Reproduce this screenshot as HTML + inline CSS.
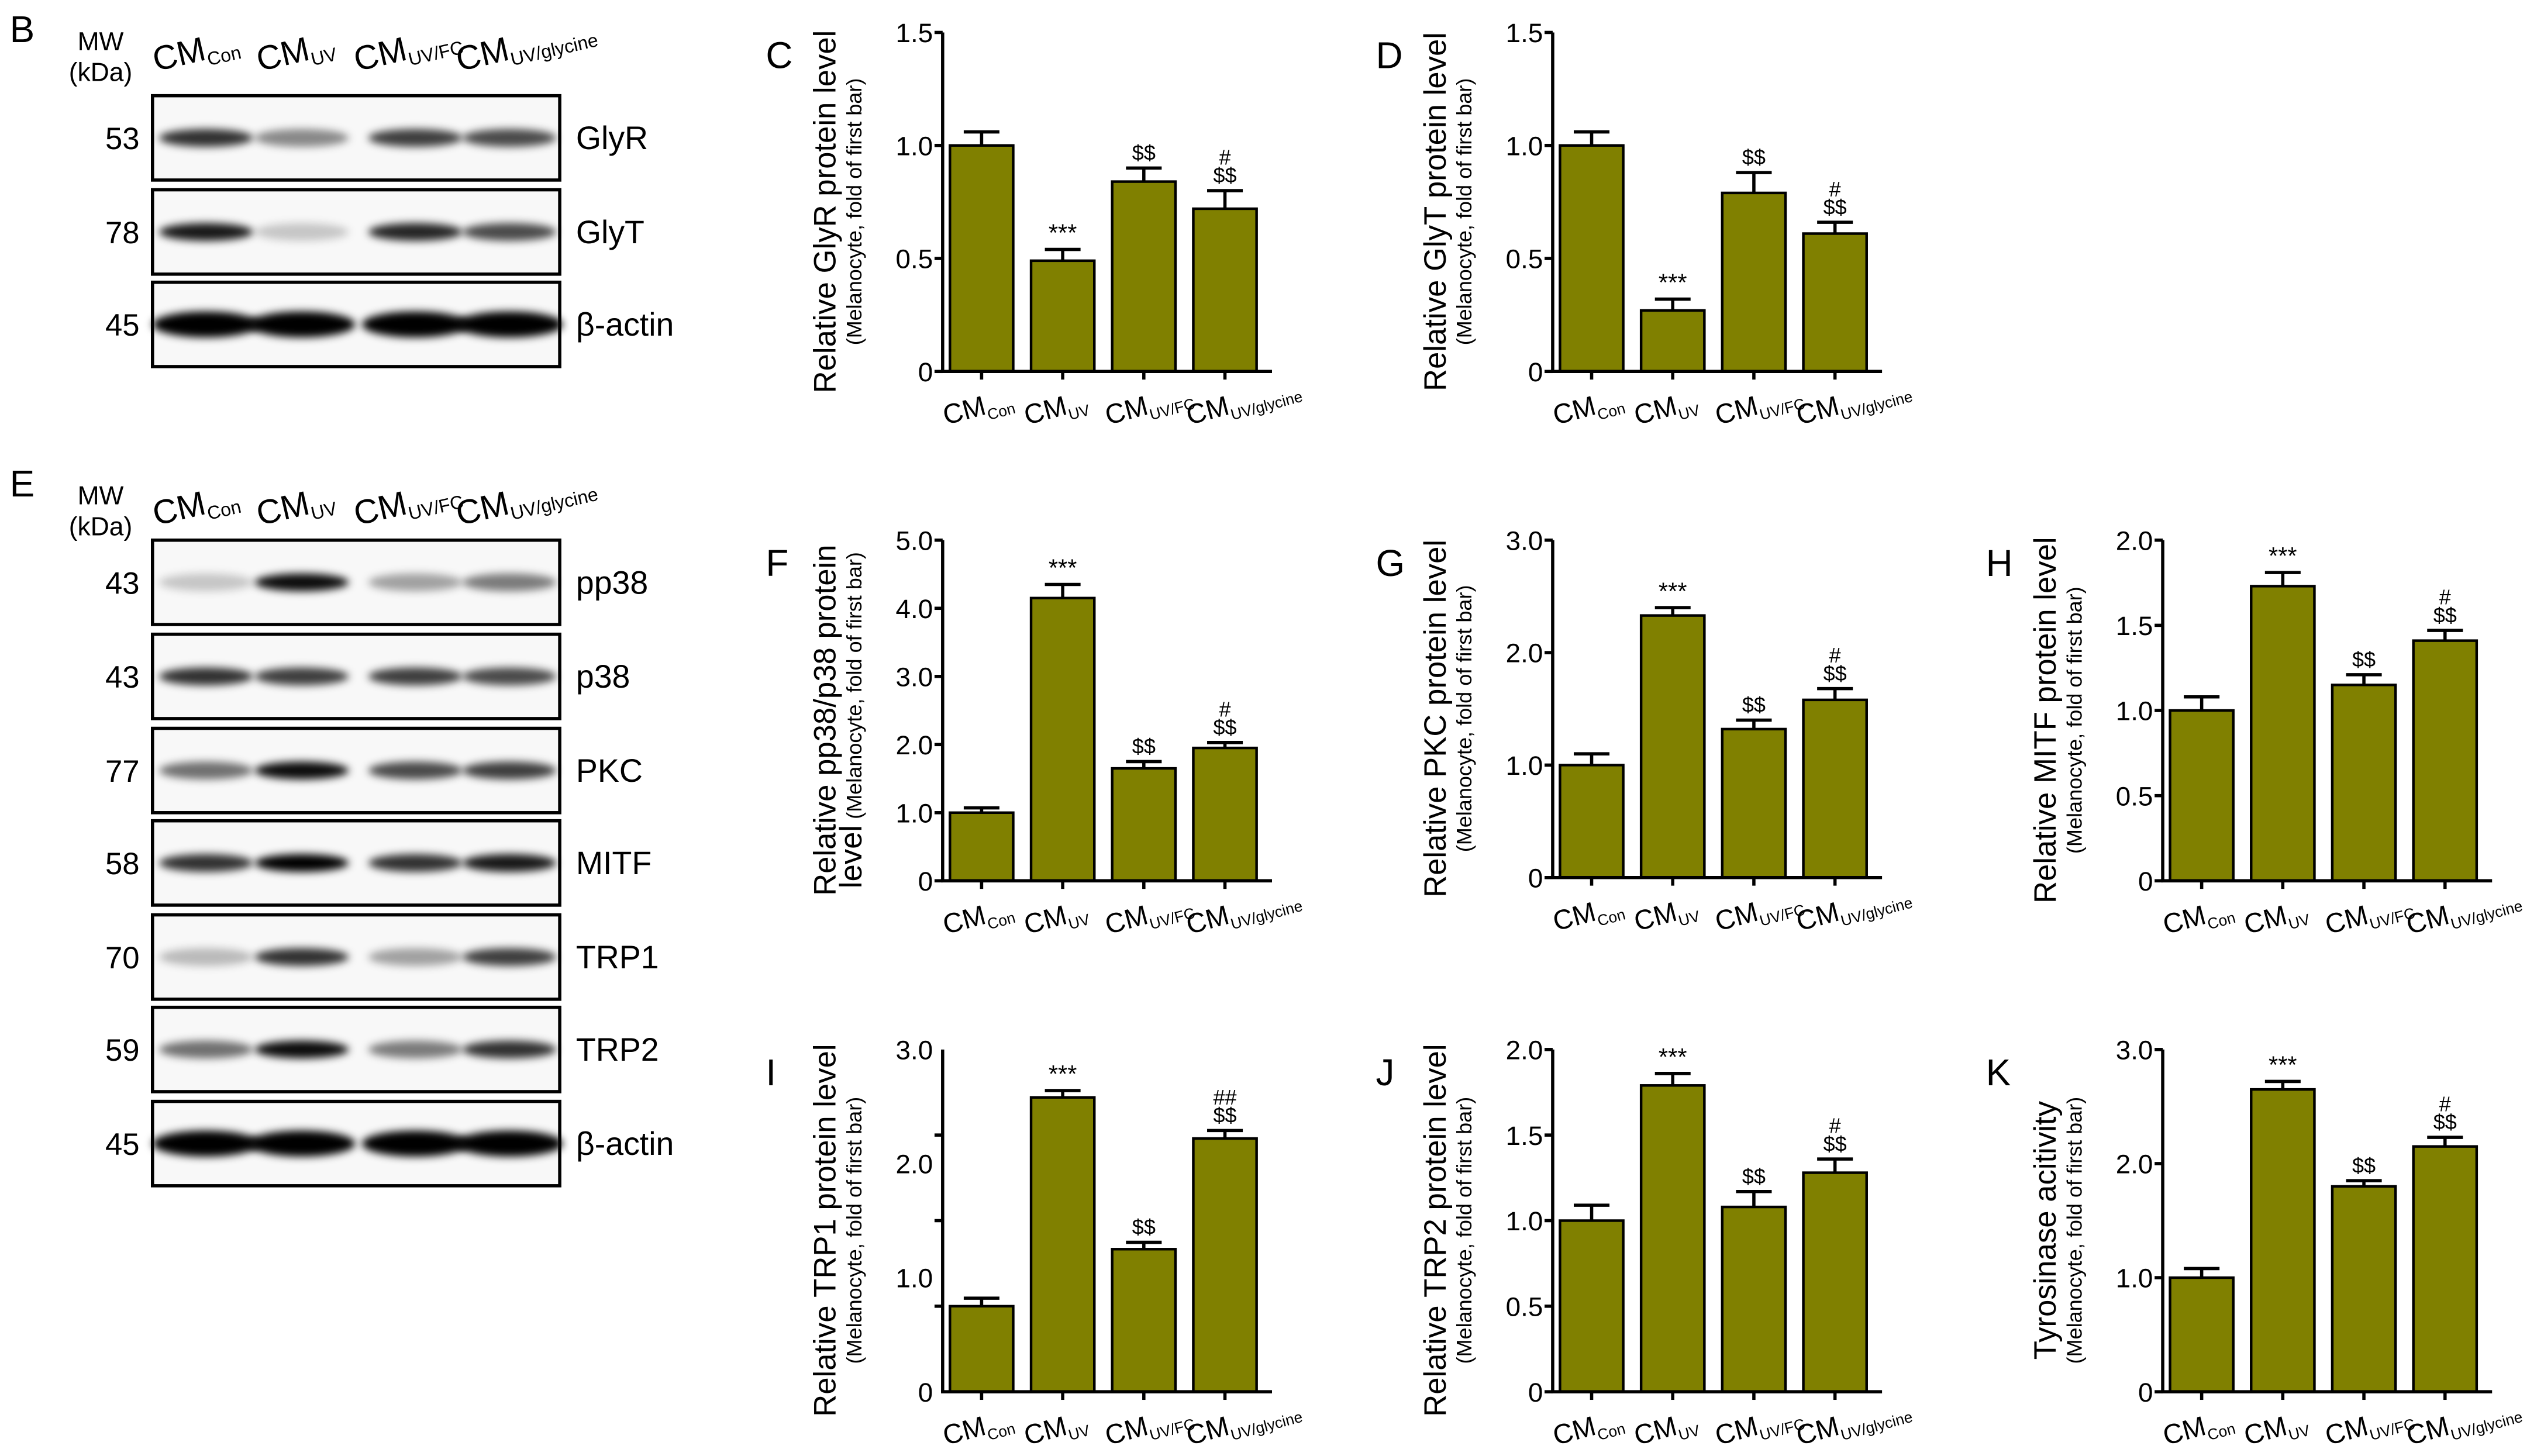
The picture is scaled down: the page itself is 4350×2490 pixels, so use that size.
<!DOCTYPE html>
<html><head><meta charset="utf-8"><style>
html,body{margin:0;padding:0;background:#fff}
svg{display:block}
text{font-family:"Liberation Sans",Arial,sans-serif;fill:#000}
</style></head><body>
<svg id="fig" width="4350" height="2490" viewBox="0 0 1568 897.6" preserveAspectRatio="none" xmlns="http://www.w3.org/2000/svg">
<defs>
<filter id="blur" x="-30%" y="-150%" width="160%" height="400%"><feGaussianBlur stdDeviation="2.5"/></filter>
</defs>
<g id="blots"></g>
<g id="charts"></g>
</svg>
<script>
const NS="http://www.w3.org/2000/svg";
function mk(tag,attrs,parent,txt){const e=document.createElementNS(NS,tag);for(const k in attrs)e.setAttribute(k,attrs[k]);if(txt!==undefined)e.textContent=txt;parent.appendChild(e);return e;}

// ---------- chart data ----------
const categories=["Con","UV","UV/FC","UV/glycine"];
const glyrValues=[1.0,0.49,0.84,0.72];
const glyrErrors=[0.06,0.05,0.06,0.08];
const glytValues=[1.0,0.27,0.79,0.61];
const glytErrors=[0.06,0.05,0.09,0.05];
const pp38Values=[1.0,4.15,1.65,1.95];
const pp38Errors=[0.07,0.2,0.1,0.08];
const pkcValues=[1.0,2.33,1.32,1.58];
const pkcErrors=[0.1,0.07,0.08,0.1];
const mitfValues=[1.0,1.73,1.15,1.41];
const mitfErrors=[0.08,0.08,0.06,0.06];
const trp1Values=[0.75,2.58,1.25,2.22];
const trp1Errors=[0.07,0.06,0.06,0.07];
const trp2Values=[1.0,1.79,1.08,1.28];
const trp2Errors=[0.09,0.07,0.09,0.08];
const tyrValues=[1.0,2.65,1.8,2.15];
const tyrErrors=[0.08,0.07,0.05,0.08];
const ticks15=["0","0.5","1.0","1.5"];
const ticks50=["0","1.0","2.0","3.0","4.0","5.0"];
const ticks30=["0","1.0","2.0","3.0"];
const ticks20=["0","0.5","1.0","1.5","2.0"];
const annotations=[[],["***"],["$$"],["$$","#"]];
const annotationsI=[[],["***"],["$$"],["$$","##"]];

const panels=[
 {id:"C",name:"glyr",ax:581,top:20,bot:229,max:1.5,vals:glyrValues,errs:glyrErrors,tl:ticks15,tv:[0,0.5,1.0,1.5],t1:"Relative GlyR protein level",t2:"(Melanocyte, fold of first bar)",ann:annotations},
 {id:"D",name:"glyt",ax:957,top:20,bot:229,max:1.5,vals:glytValues,errs:glytErrors,tl:ticks15,tv:[0,0.5,1.0,1.5],t1:"Relative GlyT protein level",t2:"(Melanocyte, fold of first bar)",ann:annotations},
 {id:"F",name:"pp38",ax:581,top:333,bot:543,max:5,vals:pp38Values,errs:pp38Errors,tl:ticks50,tv:[0,1,2,3,4,5],t1:"Relative pp38/p38 protein",t2:"level",t2b:" (Melanocyte, fold of first bar)",ann:annotations},
 {id:"G",name:"pkc",ax:957,top:333,bot:541,max:3,vals:pkcValues,errs:pkcErrors,tl:ticks30,tv:[0,1,2,3],t1:"Relative PKC protein level",t2:"(Melanocyte, fold of first bar)",ann:annotations},
 {id:"H",name:"mitf",ax:1333,top:333,bot:543,max:2,vals:mitfValues,errs:mitfErrors,tl:ticks20,tv:[0,0.5,1,1.5,2],t1:"Relative MITF protein level",t2:"(Melanocyte, fold of first bar)",ann:annotations},
 {id:"I",name:"trp1",ax:581,top:647,bot:858,max:3,vals:trp1Values,errs:trp1Errors,tl:ticks30,tv:[0,1,2,3],mt:[0.75,1.5,2.25],t1:"Relative TRP1 protein level",t2:"(Melanocyte, fold of first bar)",ann:annotationsI},
 {id:"J",name:"trp2",ax:957,top:647,bot:858,max:2,vals:trp2Values,errs:trp2Errors,tl:ticks20,tv:[0,0.5,1,1.5,2],t1:"Relative TRP2 protein level",t2:"(Melanocyte, fold of first bar)",ann:annotations},
 {id:"K",name:"tyrosinase",ax:1333,top:647,bot:858,max:3,vals:tyrValues,errs:tyrErrors,tl:ticks30,tv:[0,1,2,3],t1:"Tyrosinase acitivity",t2:"(Melanocyte, fold of first bar)",ann:annotations}
];

const charts=document.getElementById('charts');
panels.forEach(p=>{
 const g=mk('g',{},charts);
 
 
 const y=v=>p.bot-(v/p.max)*(p.bot-p.top);
 const xc=i=>p.ax+24+i*50;
 const lab=mk('text',{x:p.ax-109,y:p.top+22,'font-size':23},g,p.id);
 
 
 const cy=(p.top+p.bot)/2+6;
 const t1=mk('text',{x:p.ax-66,y:cy,transform:`rotate(-90 ${p.ax-66} ${cy})`,'text-anchor':'middle','font-size':19},g,p.t1);
 
 
 const t2=mk('text',{x:p.ax-50,y:cy,transform:`rotate(-90 ${p.ax-50} ${cy})`,'text-anchor':'middle','font-size':p.t2b?19:13},g);
 
 
 mk('tspan',{},t2,p.t2);
 if(p.t2b) mk('tspan',{'font-size':13},t2,p.t2b);
 const ya=mk('line',{x1:p.ax,y1:p.top,x2:p.ax,y2:p.bot,stroke:'#000','stroke-width':2},g);
 
 
 p.tv.forEach((v,i)=>{
   if(!p.mt) mk('line',{x1:p.ax-5,y1:y(v),x2:p.ax,y2:y(v),stroke:'#000','stroke-width':2},g);
   const t=mk('text',{x:p.ax-6,y:y(v)+6,'text-anchor':'end','font-size':16.5},g,p.tl[i]);
   
   
 });
 if(p.mt) p.mt.forEach(v=>mk('line',{x1:p.ax-5,y1:y(v),x2:p.ax,y2:y(v),stroke:'#000','stroke-width':2},g));
 p.vals.forEach((v,i)=>{
   const e=p.errs[i];
   mk('line',{x1:xc(i),y1:y(v),x2:xc(i),y2:y(v+e),stroke:'#000','stroke-width':2},g);
   mk('line',{x1:xc(i)-11,y1:y(v+e),x2:xc(i)+11,y2:y(v+e),stroke:'#000','stroke-width':2},g);
   const b=mk('rect',{x:xc(i)-19.5,y:y(v),width:39,height:p.bot-y(v),fill:'#808000',stroke:'#000','stroke-width':1.6},g);
   
   
   p.ann[i].forEach((s,k)=>{
     const a=mk('text',{x:xc(i),y:y(v+e)-5-k*11,'text-anchor':'middle','font-size':s==='***'?15:13},g,s);
     
     
   });
   mk('line',{x1:xc(i),y1:p.bot,x2:xc(i),y2:p.bot+5,stroke:'#000','stroke-width':2},g);
   const lx=xc(i)-22, ly=p.bot+33;
   const xl=mk('text',{x:lx,y:ly,transform:`rotate(-15 ${lx} ${ly})`,'font-size':17},g);
   
   
   xl.appendChild(document.createTextNode('CM'));
   mk('tspan',{'font-size':9.5,dy:4},xl,categories[i]);
 });
 const xa=mk('line',{x1:p.ax-1,y1:p.bot,x2:p.ax+203,y2:p.bot,stroke:'#000','stroke-width':2},g);
 
 
});

// ---------- blots ----------
const blotsB=[["53","GlyR",[0.8,0.45,0.75,0.7]],["78","GlyT",[0.9,0.2,0.85,0.7]],["45","β-actin",[1,1,1,1]]];
const blotsE=[["43","pp38",[0.2,0.95,0.35,0.5]],["43","p38",[0.8,0.75,0.75,0.7]],["77","PKC",[0.55,0.95,0.7,0.75]],["58","MITF",[0.8,1,0.8,0.9]],["70","TRP1",[0.25,0.8,0.35,0.75]],["59","TRP2",[0.55,0.95,0.5,0.8]],["45","β-actin",[1,1,1,1]]];
const laneX=[127,186,256,314];
const blots=document.getElementById('blots');
function header(lbl,y0){
 const l=mk('text',{x:6,y:y0+6,'font-size':23},blots,lbl);
 
 
 mk('text',{x:62,y:y0+11,'font-size':16,'text-anchor':'middle'},blots,'MW');
 mk('text',{x:62,y:y0+30,'font-size':16,'text-anchor':'middle'},blots,'(kDa)');
 categories.forEach((c,i)=>{
  const lx=[96,160,220,283][i], ly=y0+24;
  const t=mk('text',{x:lx,y:ly,transform:`rotate(-13 ${lx} ${ly})`,'font-size':21},blots);
  
  
  t.appendChild(document.createTextNode('CM'));
  mk('tspan',{'font-size':11.5,dy:4},t,c);
 });
}
function drawBlots(list,starts){
 list.forEach((r,j)=>{
  const top=starts[j];
  const g=mk('g',{},blots);
  
  
  mk('rect',{x:94,y:top,width:251,height:52,fill:'#f8f8f8',stroke:'#000','stroke-width':2},g);
  r[2].forEach((a,i)=>{
   const act=r[1]==='β-actin';
   mk('ellipse',{cx:laneX[i],cy:top+26,rx:act?33:29,ry:act?8:5.5,fill:'#000','fill-opacity':a,filter:'url(#blur)'},g);
  });
  mk('text',{x:86,y:top+33,'text-anchor':'end','font-size':19},g,r[0]);
  mk('text',{x:355,y:top+33,'font-size':20},g,r[1]);
 });
}
header('B',20);
drawBlots(blotsB,[59,117,174]);
header('E',300);
drawBlots(blotsE,[333,391,449,506,564,621,679]);
</script>
</body></html>
